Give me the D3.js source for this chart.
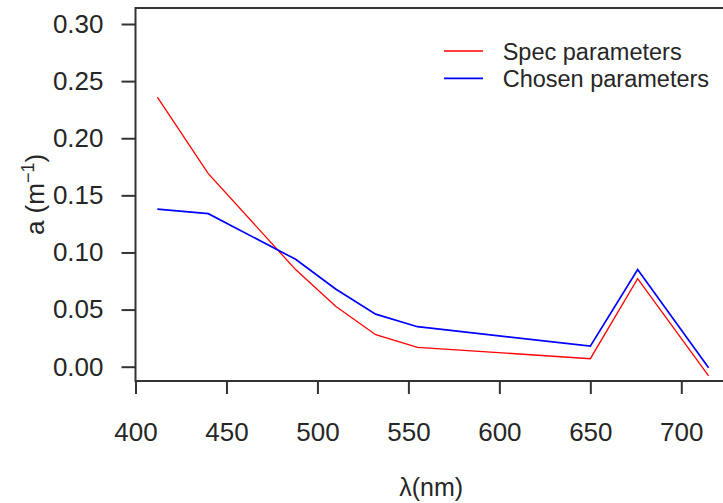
<!DOCTYPE html>
<html>
<head>
<meta charset="utf-8">
<script src="https://cdn.jsdelivr.net/npm/d3@7"></script>
<style>
  html, body { margin: 0; padding: 0; background: #fff; }
  svg { display: block; }
  text { font-family: "Liberation Sans", Arial, sans-serif; fill: #262626; }
</style>
</head>
<body>
<svg id="chart" width="723" height="503"></svg>
<script>
// ---- data ----
const wavelengths = [412, 440, 488, 510, 532, 555, 650, 676, 715];
const specParams   = [0.236, 0.169, 0.085, 0.053, 0.028, 0.017, 0.007, 0.077, -0.008];
const chosenParams = [0.138, 0.134, 0.094, 0.068, 0.046, 0.035, 0.018, 0.085, -0.001];
const seriesNames  = ["Spec parameters", "Chosen parameters"];
const seriesColors = ["#ff0000", "#0000ff"];
const xTickValues  = [400, 450, 500, 550, 600, 650, 700];
const yTickValues  = [0.00, 0.05, 0.10, 0.15, 0.20, 0.25, 0.30];

const svg = d3.select("#chart");
svg.append("rect").attr("width", 723).attr("height", 503).attr("fill", "#fff");

const x = d3.scaleLinear().domain([400, 700]).range([135.5, 681.3]);
const y = d3.scaleLinear().domain([0, 0.30]).range([366.7, 24]);

const plotLeft = 135.5, plotTop = 8, plotRight = 727, plotBottom = 381;
const axisColor = "#333";

// clip for data lines
svg.append("defs").append("clipPath").attr("id", "clip")
  .append("rect").attr("x", plotLeft).attr("y", plotTop)
  .attr("width", plotRight - plotLeft).attr("height", plotBottom - plotTop);

// lines
const line = d3.line().x(d => x(d[0])).y(d => y(d[1]));
const series = [specParams, chosenParams];
series.forEach((vals, i) => {
  svg.append("path")
    .datum(wavelengths.map((w, j) => [w, vals[j]]))
    .attr("clip-path", "url(#clip)")
    .attr("fill", "none")
    .attr("stroke", seriesColors[i])
    .attr("stroke-width", i === 0 ? 1.3 : 1.7)
    .attr("d", line);
});

// box
svg.append("rect")
  .attr("x", plotLeft).attr("y", plotTop)
  .attr("width", plotRight - plotLeft).attr("height", plotBottom - plotTop)
  .attr("fill", "none").attr("stroke", axisColor).attr("stroke-width", 2);

// y axis
const yAxis = svg.append("g").attr("transform", `translate(${plotLeft},0)`)
  .call(d3.axisLeft(y).tickValues(yTickValues).tickSize(14).tickPadding(18)
        .tickFormat(d3.format(".2f")));
yAxis.select(".domain").remove();
yAxis.selectAll("line").attr("stroke", axisColor).attr("stroke-width", 2);
yAxis.selectAll("text").style("font-size", "26px").attr("fill", "#262626")
  .style("font-family", '"Liberation Sans", Arial, sans-serif');

// x axis
const xAxis = svg.append("g").attr("transform", `translate(0,${plotBottom})`)
  .call(d3.axisBottom(x).tickValues(xTickValues).tickSize(13));
xAxis.select(".domain").remove();
xAxis.selectAll("line").attr("stroke", axisColor).attr("stroke-width", 2);
xAxis.selectAll("text").style("font-size", "26px").attr("fill", "#262626")
  .style("font-family", '"Liberation Sans", Arial, sans-serif')
  .attr("y", 60).attr("dy", 0);

// axis titles
svg.append("text")
  .attr("x", (plotLeft + plotRight) / 2).attr("y", 496)
  .attr("text-anchor", "middle").style("font-size", "25px")
  .text("λ(nm)");

const yt = svg.append("text")
  .attr("transform", `translate(44,${(plotTop + plotBottom) / 2}) rotate(-90)`)
  .attr("text-anchor", "middle").style("font-size", "26px");
yt.append("tspan").text("a (m");
yt.append("tspan").attr("dy", -10).style("font-size", "18px").text("−1");
yt.append("tspan").attr("dy", 10).text(")");

// legend
const legend = svg.append("g");
seriesNames.forEach((name, i) => {
  const ly = 51 + i * 27.3;
  legend.append("line").attr("x1", 444).attr("x2", 483).attr("y1", ly).attr("y2", ly)
    .attr("stroke", seriesColors[i]).attr("stroke-width", i === 0 ? 1.3 : 1.7);
  legend.append("text").attr("x", 502.7).attr("y", ly + 8.5)
    .style("font-size", "23.5px").text(name);
});
</script>
</body>
</html>
